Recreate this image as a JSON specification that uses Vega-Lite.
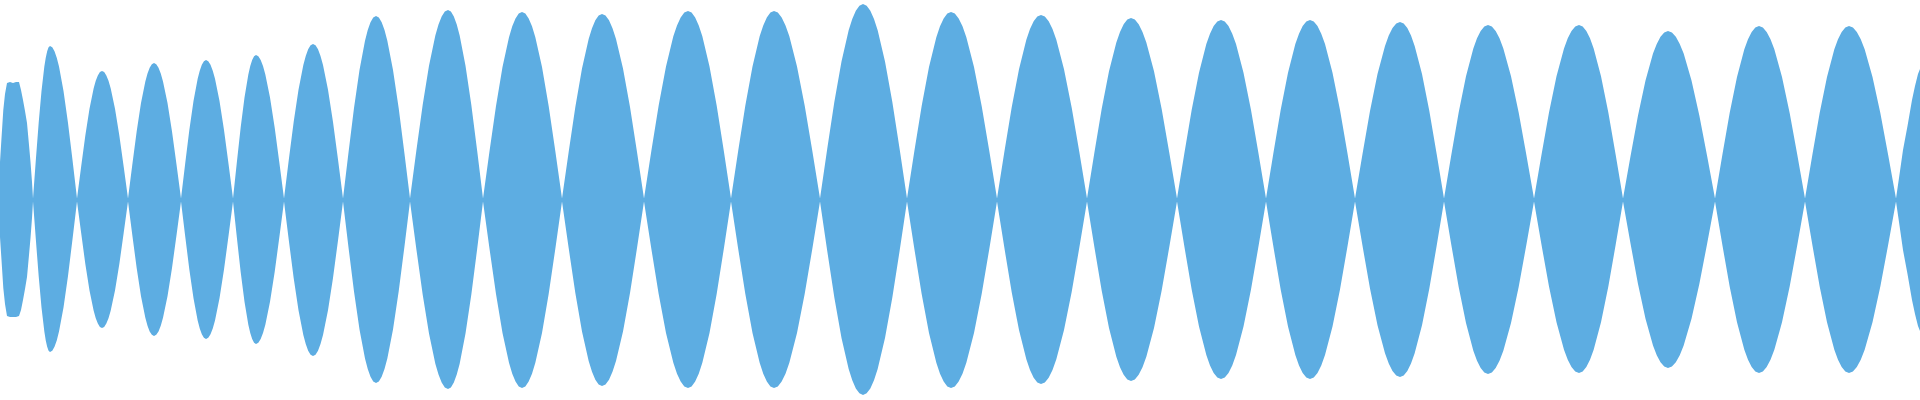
{
  "$schema": "https://vega.github.io/schema/vega-lite/v6.json",
  "width": 1920,
  "height": 400,
  "padding": 0,
  "autosize": {"type": "none"},
  "background": "#ffffff",
  "config": {"view": {"stroke": null}},
  "data": {"values": [
    {"x":0,"hi":38,"lo":-37},{"x":1.5,"hi":62,"lo":-60},{"x":3.3,"hi":90,"lo":-88},{"x":5,"hi":106,"lo":-104},{"x":7,"hi":117,"lo":-116},{"x":10,"hi":118,"lo":-117},{"x":13,"hi":117,"lo":-117},{"x":16,"hi":118,"lo":-117},{"x":19,"hi":118,"lo":-116},{"x":21,"hi":110,"lo":-110},{"x":23,"hi":100,"lo":-100},{"x":25,"hi":89,"lo":-89},{"x":27,"hi":77,"lo":-77},{"x":29,"hi":55,"lo":-55},{"x":30.5,"hi":38,"lo":-38},{"x":32,"hi":18,"lo":-18},
    {"x":33,"hi":1.5,"lo":-1.5},
    {"x":35.83,"hi":39.9,"lo":-39.3},{"x":38.67,"hi":77,"lo":-76},{"x":41.5,"hi":108.9,"lo":-107.5},{"x":44.33,"hi":133.4,"lo":-131.6},{"x":45.75,"hi":142.3,"lo":-140.4},{"x":47.17,"hi":148.7,"lo":-146.8},{"x":48.58,"hi":152.7,"lo":-150.7},{"x":50,"hi":154,"lo":-152},{"x":52.25,"hi":152.7,"lo":-150.7},{"x":54.5,"hi":148.7,"lo":-146.8},{"x":56.75,"hi":142.3,"lo":-140.4},{"x":59,"hi":133.4,"lo":-131.6},{"x":63.5,"hi":108.9,"lo":-107.5},{"x":68,"hi":77,"lo":-76},{"x":72.5,"hi":39.9,"lo":-39.3},
    {"x":77,"hi":1.5,"lo":-1.5},
    {"x":81.17,"hi":33.4,"lo":-33.1},{"x":85.33,"hi":64.5,"lo":-64},{"x":89.5,"hi":91.2,"lo":-90.5},{"x":93.67,"hi":111.7,"lo":-110.8},{"x":95.75,"hi":119.2,"lo":-118.3},{"x":97.83,"hi":124.6,"lo":-123.6},{"x":99.92,"hi":127.9,"lo":-126.9},{"x":102,"hi":129,"lo":-128},{"x":104.17,"hi":127.9,"lo":-126.9},{"x":106.33,"hi":124.6,"lo":-123.6},{"x":108.5,"hi":119.2,"lo":-118.3},{"x":110.67,"hi":111.7,"lo":-110.8},{"x":115,"hi":91.2,"lo":-90.5},{"x":119.33,"hi":64.5,"lo":-64},{"x":123.67,"hi":33.4,"lo":-33.1},
    {"x":128,"hi":1.5,"lo":-1.5},
    {"x":132.33,"hi":35.5,"lo":-35.2},{"x":136.67,"hi":68.5,"lo":-68},{"x":141,"hi":96.9,"lo":-96.2},{"x":145.33,"hi":118.6,"lo":-117.8},{"x":147.5,"hi":126.6,"lo":-125.7},{"x":149.67,"hi":132.3,"lo":-131.4},{"x":151.83,"hi":135.8,"lo":-134.8},{"x":154,"hi":137,"lo":-136},{"x":156.25,"hi":135.8,"lo":-134.8},{"x":158.5,"hi":132.3,"lo":-131.4},{"x":160.75,"hi":126.6,"lo":-125.7},{"x":163,"hi":118.6,"lo":-117.8},{"x":167.5,"hi":96.9,"lo":-96.2},{"x":172,"hi":68.5,"lo":-68},{"x":176.5,"hi":35.5,"lo":-35.2},
    {"x":181,"hi":1.5,"lo":-1.5},
    {"x":185.17,"hi":36.2,"lo":-36},{"x":189.33,"hi":70,"lo":-69.5},{"x":193.5,"hi":99,"lo":-98.3},{"x":197.67,"hi":121.2,"lo":-120.4},{"x":199.75,"hi":129.3,"lo":-128.4},{"x":201.83,"hi":135.2,"lo":-134.3},{"x":203.92,"hi":138.8,"lo":-137.8},{"x":206,"hi":140,"lo":-139},{"x":208.25,"hi":138.8,"lo":-137.8},{"x":210.5,"hi":135.2,"lo":-134.3},{"x":212.75,"hi":129.3,"lo":-128.4},{"x":215,"hi":121.2,"lo":-120.4},{"x":219.5,"hi":99,"lo":-98.3},{"x":224,"hi":70,"lo":-69.5},{"x":228.5,"hi":36.2,"lo":-36},
    {"x":233,"hi":1.5,"lo":-1.5},
    {"x":236.83,"hi":37.5,"lo":-37.3},{"x":240.67,"hi":72.5,"lo":-72},{"x":244.5,"hi":102.5,"lo":-101.8},{"x":248.33,"hi":125.6,"lo":-124.7},{"x":250.25,"hi":134,"lo":-133},{"x":252.17,"hi":140.1,"lo":-139.1},{"x":254.08,"hi":143.8,"lo":-142.8},{"x":256,"hi":145,"lo":-144},{"x":258.33,"hi":143.8,"lo":-142.8},{"x":260.67,"hi":140.1,"lo":-139.1},{"x":263,"hi":134,"lo":-133},{"x":265.33,"hi":125.6,"lo":-124.7},{"x":270,"hi":102.5,"lo":-101.8},{"x":274.67,"hi":72.5,"lo":-72},{"x":279.33,"hi":37.5,"lo":-37.3},
    {"x":284,"hi":1.5,"lo":-1.5},
    {"x":288.83,"hi":40.4,"lo":-40.4},{"x":293.67,"hi":78,"lo":-78},{"x":298.5,"hi":110.3,"lo":-110.3},{"x":303.33,"hi":135.1,"lo":-135.1},{"x":305.75,"hi":144.1,"lo":-144.1},{"x":308.17,"hi":150.7,"lo":-150.7},{"x":310.58,"hi":154.7,"lo":-154.7},{"x":313,"hi":156,"lo":-156},{"x":315.5,"hi":154.7,"lo":-154.7},{"x":318,"hi":150.7,"lo":-150.7},{"x":320.5,"hi":144.1,"lo":-144.1},{"x":323,"hi":135.1,"lo":-135.1},{"x":328,"hi":110.3,"lo":-110.3},{"x":333,"hi":78,"lo":-78},{"x":338,"hi":40.4,"lo":-40.4},
    {"x":343,"hi":1.5,"lo":-1.5},
    {"x":348.5,"hi":47.6,"lo":-47.4},{"x":354,"hi":92,"lo":-91.5},{"x":359.5,"hi":130.1,"lo":-129.4},{"x":365,"hi":159.3,"lo":-158.5},{"x":367.75,"hi":170,"lo":-169.1},{"x":370.5,"hi":177.7,"lo":-176.8},{"x":373.25,"hi":182.4,"lo":-181.4},{"x":376,"hi":184,"lo":-183},{"x":378.83,"hi":182.4,"lo":-181.4},{"x":381.67,"hi":177.7,"lo":-176.8},{"x":384.5,"hi":170,"lo":-169.1},{"x":387.33,"hi":159.3,"lo":-158.5},{"x":393,"hi":130.1,"lo":-129.4},{"x":398.67,"hi":92,"lo":-91.5},{"x":404.33,"hi":47.6,"lo":-47.4},
    {"x":410,"hi":1.5,"lo":-1.5},
    {"x":416.33,"hi":49.2,"lo":-48.9},{"x":422.67,"hi":95,"lo":-94.5},{"x":429,"hi":134.3,"lo":-133.6},{"x":435.33,"hi":164.5,"lo":-163.7},{"x":438.5,"hi":175.5,"lo":-174.6},{"x":441.67,"hi":183.5,"lo":-182.6},{"x":444.83,"hi":188.4,"lo":-187.4},{"x":448,"hi":190,"lo":-189},{"x":450.92,"hi":188.4,"lo":-187.4},{"x":453.83,"hi":183.5,"lo":-182.6},{"x":456.75,"hi":175.5,"lo":-174.6},{"x":459.67,"hi":164.5,"lo":-163.7},{"x":465.5,"hi":134.3,"lo":-133.6},{"x":471.33,"hi":95,"lo":-94.5},{"x":477.17,"hi":49.2,"lo":-48.9},
    {"x":483,"hi":1.5,"lo":-1.5},
    {"x":489.5,"hi":48.7,"lo":-48.7},{"x":496,"hi":94,"lo":-94},{"x":502.5,"hi":132.9,"lo":-132.9},{"x":509,"hi":162.8,"lo":-162.8},{"x":512.25,"hi":173.7,"lo":-173.7},{"x":515.5,"hi":181.6,"lo":-181.6},{"x":518.75,"hi":186.4,"lo":-186.4},{"x":522,"hi":188,"lo":-188},{"x":525.33,"hi":186.4,"lo":-186.4},{"x":528.67,"hi":181.6,"lo":-181.6},{"x":532,"hi":173.7,"lo":-173.7},{"x":535.33,"hi":162.8,"lo":-162.8},{"x":542,"hi":132.9,"lo":-132.9},{"x":548.67,"hi":94,"lo":-94},{"x":555.33,"hi":48.7,"lo":-48.7},
    {"x":562,"hi":1.5,"lo":-1.5},
    {"x":568.67,"hi":48.1,"lo":-48.1},{"x":575.33,"hi":93,"lo":-93},{"x":582,"hi":131.5,"lo":-131.5},{"x":588.67,"hi":161.1,"lo":-161.1},{"x":592,"hi":171.8,"lo":-171.8},{"x":595.33,"hi":179.7,"lo":-179.7},{"x":598.67,"hi":184.4,"lo":-184.4},{"x":602,"hi":186,"lo":-186},{"x":605.5,"hi":184.4,"lo":-184.4},{"x":609,"hi":179.7,"lo":-179.7},{"x":612.5,"hi":171.8,"lo":-171.8},{"x":616,"hi":161.1,"lo":-161.1},{"x":623,"hi":131.5,"lo":-131.5},{"x":630,"hi":93,"lo":-93},{"x":637,"hi":48.1,"lo":-48.1},
    {"x":644,"hi":1.5,"lo":-1.5},
    {"x":651.33,"hi":48.9,"lo":-48.7},{"x":658.67,"hi":94.5,"lo":-94},{"x":666,"hi":133.6,"lo":-132.9},{"x":673.33,"hi":163.7,"lo":-162.8},{"x":677,"hi":174.6,"lo":-173.7},{"x":680.67,"hi":182.6,"lo":-181.6},{"x":684.33,"hi":187.4,"lo":-186.4},{"x":688,"hi":189,"lo":-188},{"x":691.58,"hi":187.4,"lo":-186.4},{"x":695.17,"hi":182.6,"lo":-181.6},{"x":698.75,"hi":174.6,"lo":-173.7},{"x":702.33,"hi":163.7,"lo":-162.8},{"x":709.5,"hi":133.6,"lo":-132.9},{"x":716.67,"hi":94.5,"lo":-94},{"x":723.83,"hi":48.9,"lo":-48.7},
    {"x":731,"hi":1.5,"lo":-1.5},
    {"x":738.17,"hi":48.9,"lo":-48.7},{"x":745.33,"hi":94.5,"lo":-94},{"x":752.5,"hi":133.6,"lo":-132.9},{"x":759.67,"hi":163.7,"lo":-162.8},{"x":763.25,"hi":174.6,"lo":-173.7},{"x":766.83,"hi":182.6,"lo":-181.6},{"x":770.42,"hi":187.4,"lo":-186.4},{"x":774,"hi":189,"lo":-188},{"x":777.83,"hi":187.4,"lo":-186.4},{"x":781.67,"hi":182.6,"lo":-181.6},{"x":785.5,"hi":174.6,"lo":-173.7},{"x":789.33,"hi":163.7,"lo":-162.8},{"x":797,"hi":133.6,"lo":-132.9},{"x":804.67,"hi":94.5,"lo":-94},{"x":812.33,"hi":48.9,"lo":-48.7},
    {"x":820,"hi":1.5,"lo":-1.5},
    {"x":827.17,"hi":50.7,"lo":-50.5},{"x":834.33,"hi":98,"lo":-97.5},{"x":841.5,"hi":138.6,"lo":-137.9},{"x":848.67,"hi":169.7,"lo":-168.9},{"x":852.25,"hi":181.1,"lo":-180.2},{"x":855.83,"hi":189.3,"lo":-188.4},{"x":859.42,"hi":194.3,"lo":-193.3},{"x":863,"hi":196,"lo":-195},{"x":866.67,"hi":194.3,"lo":-193.3},{"x":870.33,"hi":189.3,"lo":-188.4},{"x":874,"hi":181.1,"lo":-180.2},{"x":877.67,"hi":169.7,"lo":-168.9},{"x":885,"hi":138.6,"lo":-137.9},{"x":892.33,"hi":98,"lo":-97.5},{"x":899.67,"hi":50.7,"lo":-50.5},
    {"x":907,"hi":1.5,"lo":-1.5},
    {"x":914.33,"hi":48.7,"lo":-48.7},{"x":921.67,"hi":94,"lo":-94},{"x":929,"hi":132.9,"lo":-132.9},{"x":936.33,"hi":162.8,"lo":-162.8},{"x":940,"hi":173.7,"lo":-173.7},{"x":943.67,"hi":181.6,"lo":-181.6},{"x":947.33,"hi":186.4,"lo":-186.4},{"x":951,"hi":188,"lo":-188},{"x":954.83,"hi":186.4,"lo":-186.4},{"x":958.67,"hi":181.6,"lo":-181.6},{"x":962.5,"hi":173.7,"lo":-173.7},{"x":966.33,"hi":162.8,"lo":-162.8},{"x":974,"hi":132.9,"lo":-132.9},{"x":981.67,"hi":94,"lo":-94},{"x":989.33,"hi":48.7,"lo":-48.7},
    {"x":997,"hi":1.5,"lo":-1.5},
    {"x":1004.33,"hi":47.9,"lo":-47.6},{"x":1011.67,"hi":92.5,"lo":-92},{"x":1019,"hi":130.8,"lo":-130.1},{"x":1026.33,"hi":160.2,"lo":-159.3},{"x":1030,"hi":170.9,"lo":-170},{"x":1033.67,"hi":178.7,"lo":-177.7},{"x":1037.33,"hi":183.4,"lo":-182.4},{"x":1041,"hi":185,"lo":-184},{"x":1044.83,"hi":183.4,"lo":-182.4},{"x":1048.67,"hi":178.7,"lo":-177.7},{"x":1052.5,"hi":170.9,"lo":-170},{"x":1056.33,"hi":160.2,"lo":-159.3},{"x":1064,"hi":130.8,"lo":-130.1},{"x":1071.67,"hi":92.5,"lo":-92},{"x":1079.33,"hi":47.9,"lo":-47.6},
    {"x":1087,"hi":1.5,"lo":-1.5},
    {"x":1094.33,"hi":47.1,"lo":-46.8},{"x":1101.67,"hi":91,"lo":-90.5},{"x":1109,"hi":128.7,"lo":-128},{"x":1116.33,"hi":157.6,"lo":-156.7},{"x":1120,"hi":168.1,"lo":-167.2},{"x":1123.67,"hi":175.8,"lo":-174.8},{"x":1127.33,"hi":180.4,"lo":-179.4},{"x":1131,"hi":182,"lo":-181},{"x":1134.83,"hi":180.4,"lo":-179.4},{"x":1138.67,"hi":175.8,"lo":-174.8},{"x":1142.5,"hi":168.1,"lo":-167.2},{"x":1146.33,"hi":157.6,"lo":-156.7},{"x":1154,"hi":128.7,"lo":-128},{"x":1161.67,"hi":91,"lo":-90.5},{"x":1169.33,"hi":47.1,"lo":-46.8},
    {"x":1177,"hi":1.5,"lo":-1.5},
    {"x":1184.33,"hi":46.6,"lo":-46.3},{"x":1191.67,"hi":90,"lo":-89.5},{"x":1199,"hi":127.3,"lo":-126.6},{"x":1206.33,"hi":155.9,"lo":-155},{"x":1210,"hi":166.3,"lo":-165.4},{"x":1213.67,"hi":173.9,"lo":-172.9},{"x":1217.33,"hi":178.5,"lo":-177.5},{"x":1221,"hi":180,"lo":-179},{"x":1224.75,"hi":178.5,"lo":-177.5},{"x":1228.5,"hi":173.9,"lo":-172.9},{"x":1232.25,"hi":166.3,"lo":-165.4},{"x":1236,"hi":155.9,"lo":-155},{"x":1243.5,"hi":127.3,"lo":-126.6},{"x":1251,"hi":90,"lo":-89.5},{"x":1258.5,"hi":46.6,"lo":-46.3},
    {"x":1266,"hi":1.5,"lo":-1.5},
    {"x":1273.33,"hi":46.6,"lo":-46.3},{"x":1280.67,"hi":90,"lo":-89.5},{"x":1288,"hi":127.3,"lo":-126.6},{"x":1295.33,"hi":155.9,"lo":-155},{"x":1299,"hi":166.3,"lo":-165.4},{"x":1302.67,"hi":173.9,"lo":-172.9},{"x":1306.33,"hi":178.5,"lo":-177.5},{"x":1310,"hi":180,"lo":-179},{"x":1313.75,"hi":178.5,"lo":-177.5},{"x":1317.5,"hi":173.9,"lo":-172.9},{"x":1321.25,"hi":166.3,"lo":-165.4},{"x":1325,"hi":155.9,"lo":-155},{"x":1332.5,"hi":127.3,"lo":-126.6},{"x":1340,"hi":90,"lo":-89.5},{"x":1347.5,"hi":46.6,"lo":-46.3},
    {"x":1355,"hi":1.5,"lo":-1.5},
    {"x":1362.5,"hi":46.1,"lo":-45.8},{"x":1370,"hi":89,"lo":-88.5},{"x":1377.5,"hi":125.9,"lo":-125.2},{"x":1385,"hi":154.1,"lo":-153.3},{"x":1388.75,"hi":164.5,"lo":-163.5},{"x":1392.5,"hi":171.9,"lo":-171},{"x":1396.25,"hi":176.5,"lo":-175.5},{"x":1400,"hi":178,"lo":-177},{"x":1403.67,"hi":176.5,"lo":-175.5},{"x":1407.33,"hi":171.9,"lo":-171},{"x":1411,"hi":164.5,"lo":-163.5},{"x":1414.67,"hi":154.1,"lo":-153.3},{"x":1422,"hi":125.9,"lo":-125.2},{"x":1429.33,"hi":89,"lo":-88.5},{"x":1436.67,"hi":46.1,"lo":-45.8},
    {"x":1444,"hi":1.5,"lo":-1.5},
    {"x":1451.33,"hi":45.3,"lo":-45},{"x":1458.67,"hi":87.5,"lo":-87},{"x":1466,"hi":123.7,"lo":-123},{"x":1473.33,"hi":151.6,"lo":-150.7},{"x":1477,"hi":161.7,"lo":-160.8},{"x":1480.67,"hi":169,"lo":-168.1},{"x":1484.33,"hi":173.5,"lo":-172.5},{"x":1488,"hi":175,"lo":-174},{"x":1491.83,"hi":173.5,"lo":-172.5},{"x":1495.67,"hi":169,"lo":-168.1},{"x":1499.5,"hi":161.7,"lo":-160.8},{"x":1503.33,"hi":151.6,"lo":-150.7},{"x":1511,"hi":123.7,"lo":-123},{"x":1518.67,"hi":87.5,"lo":-87},{"x":1526.33,"hi":45.3,"lo":-45},
    {"x":1534,"hi":1.5,"lo":-1.5},
    {"x":1541.5,"hi":45.3,"lo":-44.8},{"x":1549,"hi":87.5,"lo":-86.5},{"x":1556.5,"hi":123.7,"lo":-122.3},{"x":1564,"hi":151.6,"lo":-149.8},{"x":1567.75,"hi":161.7,"lo":-159.8},{"x":1571.5,"hi":169,"lo":-167.1},{"x":1575.25,"hi":173.5,"lo":-171.5},{"x":1579,"hi":175,"lo":-173},{"x":1582.67,"hi":173.5,"lo":-171.5},{"x":1586.33,"hi":169,"lo":-167.1},{"x":1590,"hi":161.7,"lo":-159.8},{"x":1593.67,"hi":151.6,"lo":-149.8},{"x":1601,"hi":123.7,"lo":-122.3},{"x":1608.33,"hi":87.5,"lo":-86.5},{"x":1615.67,"hi":45.3,"lo":-44.8},
    {"x":1623,"hi":1.5,"lo":-1.5},
    {"x":1630.5,"hi":43.7,"lo":-43.5},{"x":1638,"hi":84.5,"lo":-84},{"x":1645.5,"hi":119.5,"lo":-118.8},{"x":1653,"hi":146.4,"lo":-145.5},{"x":1656.75,"hi":156.1,"lo":-155.2},{"x":1660.5,"hi":163.2,"lo":-162.3},{"x":1664.25,"hi":167.5,"lo":-166.6},{"x":1668,"hi":169,"lo":-168},{"x":1671.92,"hi":167.5,"lo":-166.6},{"x":1675.83,"hi":163.2,"lo":-162.3},{"x":1679.75,"hi":156.1,"lo":-155.2},{"x":1683.67,"hi":146.4,"lo":-145.5},{"x":1691.5,"hi":119.5,"lo":-118.8},{"x":1699.33,"hi":84.5,"lo":-84},{"x":1707.17,"hi":43.7,"lo":-43.5},
    {"x":1715,"hi":1.5,"lo":-1.5},
    {"x":1722.33,"hi":45,"lo":-44.8},{"x":1729.67,"hi":87,"lo":-86.5},{"x":1737,"hi":123,"lo":-122.3},{"x":1744.33,"hi":150.7,"lo":-149.8},{"x":1748,"hi":160.8,"lo":-159.8},{"x":1751.67,"hi":168.1,"lo":-167.1},{"x":1755.33,"hi":172.5,"lo":-171.5},{"x":1759,"hi":174,"lo":-173},{"x":1762.83,"hi":172.5,"lo":-171.5},{"x":1766.67,"hi":168.1,"lo":-167.1},{"x":1770.5,"hi":160.8,"lo":-159.8},{"x":1774.33,"hi":150.7,"lo":-149.8},{"x":1782,"hi":123,"lo":-122.3},{"x":1789.67,"hi":87,"lo":-86.5},{"x":1797.33,"hi":45,"lo":-44.8},
    {"x":1805,"hi":1.5,"lo":-1.5},
    {"x":1812.33,"hi":45,"lo":-44.8},{"x":1819.67,"hi":87,"lo":-86.5},{"x":1827,"hi":123,"lo":-122.3},{"x":1834.33,"hi":150.7,"lo":-149.8},{"x":1838,"hi":160.8,"lo":-159.8},{"x":1841.67,"hi":168.1,"lo":-167.1},{"x":1845.33,"hi":172.5,"lo":-171.5},{"x":1849,"hi":174,"lo":-173},{"x":1852.92,"hi":172.5,"lo":-171.5},{"x":1856.83,"hi":168.1,"lo":-167.1},{"x":1860.75,"hi":160.8,"lo":-159.8},{"x":1864.67,"hi":150.7,"lo":-149.8},{"x":1872.5,"hi":123,"lo":-122.3},{"x":1880.33,"hi":87,"lo":-86.5},{"x":1888.17,"hi":45,"lo":-44.8},
    {"x":1896,"hi":1.5,"lo":-1.5},
    {"x":1899,"hi":22,"lo":-22},{"x":1903,"hi":50,"lo":-50},{"x":1907.5,"hi":74,"lo":-74},{"x":1912,"hi":100,"lo":-100},{"x":1915,"hi":114,"lo":-114},{"x":1918,"hi":126,"lo":-126},{"x":1920,"hi":131,"lo":-131}
  ]},
  "mark": {"type": "area", "color": "#5DADE2", "clip": true, "interpolate": "linear"},
  "encoding": {
    "x": {"field": "x", "type": "quantitative", "scale": {"domain": [0, 1920], "nice": false, "zero": false}, "axis": null},
    "y": {"field": "hi", "type": "quantitative", "scale": {"domain": [-200, 200], "nice": false}, "axis": null},
    "y2": {"field": "lo"}
  }
}
